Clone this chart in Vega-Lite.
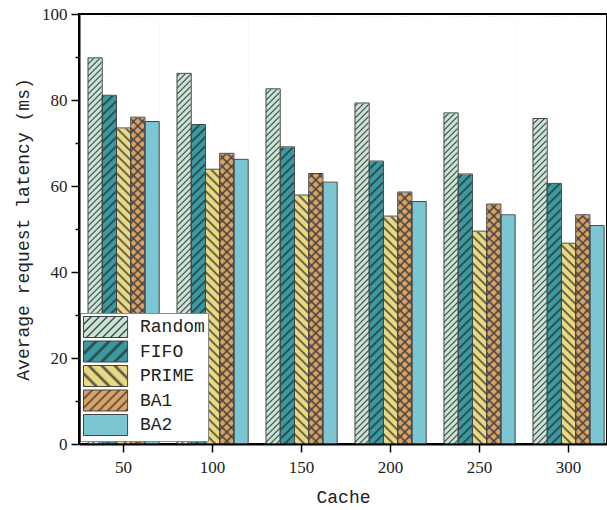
{
"$schema":"https://vega.github.io/schema/vega-lite/v6.json",
"width":528,"height":430,
"autosize":{"type":"none"},
"padding":{"left":79,"top":14,"right":0,"bottom":66},
"background":"white",
"config":{"view":{"stroke":"black","strokeWidth":2},"axis":{"labelFont":"Liberation Serif","labelFontSize":17,"labelColor":"#222","titleFont":"Liberation Mono","titleFontSize":18,"titleFontWeight":"normal","titleColor":"#222","grid":false}},
"data":{"values":[
{"cache":50,"series":"Random","latency":89.8},{"cache":50,"series":"FIFO","latency":81.1},{"cache":50,"series":"PRIME","latency":73.5},{"cache":50,"series":"BA1","latency":76.0},{"cache":50,"series":"BA2","latency":75.0},
{"cache":100,"series":"Random","latency":86.2},{"cache":100,"series":"FIFO","latency":74.3},{"cache":100,"series":"PRIME","latency":63.9},{"cache":100,"series":"BA1","latency":67.6},{"cache":100,"series":"BA2","latency":66.2},
{"cache":150,"series":"Random","latency":82.6},{"cache":150,"series":"FIFO","latency":69.1},{"cache":150,"series":"PRIME","latency":57.9},{"cache":150,"series":"BA1","latency":62.9},{"cache":150,"series":"BA2","latency":60.9},
{"cache":200,"series":"Random","latency":79.3},{"cache":200,"series":"FIFO","latency":65.8},{"cache":200,"series":"PRIME","latency":53.0},{"cache":200,"series":"BA1","latency":58.6},{"cache":200,"series":"BA2","latency":56.4},
{"cache":250,"series":"Random","latency":77.0},{"cache":250,"series":"FIFO","latency":62.8},{"cache":250,"series":"PRIME","latency":49.5},{"cache":250,"series":"BA1","latency":55.8},{"cache":250,"series":"BA2","latency":53.3},
{"cache":300,"series":"Random","latency":75.7},{"cache":300,"series":"FIFO","latency":60.6},{"cache":300,"series":"PRIME","latency":46.7},{"cache":300,"series":"BA1","latency":53.3},{"cache":300,"series":"BA2","latency":50.8}
]},
"encoding":{
"x":{"field":"cache","type":"nominal","sort":[50,100,150,200,250,300],"scale":{"paddingInner":0.2,"paddingOuter":0.0666,"align":0.76,"round":false},"axis":{"title":"Cache","labelAngle":0,"ticks":true,"domain":true,"domainColor":"black","domainWidth":2,"tickColor":"black","tickWidth":1.5,"tickSize":8,"labelPadding":7,"titlePadding":13,"zindex":1}},
"xOffset":{"field":"series","type":"nominal","sort":["Random","FIFO","PRIME","BA1","BA2"],"scale":{"domain":["Random","FIFO","PRIME","BA1","BA2"],"paddingInner":0,"paddingOuter":0,"round":false}}
},
"layer":[
{"transform":[{"filter":"datum.series==='Random'"}],
"mark":{"type":"bar","strokeWidth":0,"fill":{"gradient":"linear","x1":0,"y1":0,"x2":0.046617,"y2":1.40082,"stops":[
{"offset":0,"color":"#444"},{"offset":0.0025,"color":"#c8e6d6"},{"offset":0.0075,"color":"#c8e6d6"},
{"offset":0.01,"color":"#444"},{"offset":0.0125,"color":"#c8e6d6"},{"offset":0.0175,"color":"#c8e6d6"},
{"offset":0.02,"color":"#444"},{"offset":0.0225,"color":"#c8e6d6"},{"offset":0.0275,"color":"#c8e6d6"},
{"offset":0.03,"color":"#444"},{"offset":0.0325,"color":"#c8e6d6"},{"offset":0.0375,"color":"#c8e6d6"},
{"offset":0.04,"color":"#444"},{"offset":0.0425,"color":"#c8e6d6"},{"offset":0.0475,"color":"#c8e6d6"},
{"offset":0.05,"color":"#444"},{"offset":0.0525,"color":"#c8e6d6"},{"offset":0.0575,"color":"#c8e6d6"},
{"offset":0.06,"color":"#444"},{"offset":0.0625,"color":"#c8e6d6"},{"offset":0.0675,"color":"#c8e6d6"},
{"offset":0.07,"color":"#444"},{"offset":0.0725,"color":"#c8e6d6"},{"offset":0.0775,"color":"#c8e6d6"},
{"offset":0.08,"color":"#444"},{"offset":0.0825,"color":"#c8e6d6"},{"offset":0.0875,"color":"#c8e6d6"},
{"offset":0.09,"color":"#444"},{"offset":0.0925,"color":"#c8e6d6"},{"offset":0.0975,"color":"#c8e6d6"},
{"offset":0.10,"color":"#444"},{"offset":0.1025,"color":"#c8e6d6"},{"offset":0.1075,"color":"#c8e6d6"},
{"offset":0.11,"color":"#444"},{"offset":0.1125,"color":"#c8e6d6"},{"offset":0.1175,"color":"#c8e6d6"},
{"offset":0.12,"color":"#444"},{"offset":0.1225,"color":"#c8e6d6"},{"offset":0.1275,"color":"#c8e6d6"},
{"offset":0.13,"color":"#444"},{"offset":0.1325,"color":"#c8e6d6"},{"offset":0.1375,"color":"#c8e6d6"},
{"offset":0.14,"color":"#444"},{"offset":0.1425,"color":"#c8e6d6"},{"offset":0.1475,"color":"#c8e6d6"},
{"offset":0.15,"color":"#444"},{"offset":0.1525,"color":"#c8e6d6"},{"offset":0.1575,"color":"#c8e6d6"},
{"offset":0.16,"color":"#444"},{"offset":0.1625,"color":"#c8e6d6"},{"offset":0.1675,"color":"#c8e6d6"},
{"offset":0.17,"color":"#444"},{"offset":0.1725,"color":"#c8e6d6"},{"offset":0.1775,"color":"#c8e6d6"},
{"offset":0.18,"color":"#444"},{"offset":0.1825,"color":"#c8e6d6"},{"offset":0.1875,"color":"#c8e6d6"},
{"offset":0.19,"color":"#444"},{"offset":0.1925,"color":"#c8e6d6"},{"offset":0.1975,"color":"#c8e6d6"},
{"offset":0.20,"color":"#444"},{"offset":0.2025,"color":"#c8e6d6"},{"offset":0.2075,"color":"#c8e6d6"},
{"offset":0.21,"color":"#444"},{"offset":0.2125,"color":"#c8e6d6"},{"offset":0.2175,"color":"#c8e6d6"},
{"offset":0.22,"color":"#444"},{"offset":0.2225,"color":"#c8e6d6"},{"offset":0.2275,"color":"#c8e6d6"},
{"offset":0.23,"color":"#444"},{"offset":0.2325,"color":"#c8e6d6"},{"offset":0.2375,"color":"#c8e6d6"},
{"offset":0.24,"color":"#444"},{"offset":0.2425,"color":"#c8e6d6"},{"offset":0.2475,"color":"#c8e6d6"},
{"offset":0.25,"color":"#444"},{"offset":0.2525,"color":"#c8e6d6"},{"offset":0.2575,"color":"#c8e6d6"},
{"offset":0.26,"color":"#444"},{"offset":0.2625,"color":"#c8e6d6"},{"offset":0.2675,"color":"#c8e6d6"},
{"offset":0.27,"color":"#444"},{"offset":0.2725,"color":"#c8e6d6"},{"offset":0.2775,"color":"#c8e6d6"},
{"offset":0.28,"color":"#444"},{"offset":0.2825,"color":"#c8e6d6"},{"offset":0.2875,"color":"#c8e6d6"},
{"offset":0.29,"color":"#444"},{"offset":0.2925,"color":"#c8e6d6"},{"offset":0.2975,"color":"#c8e6d6"},
{"offset":0.30,"color":"#444"},{"offset":0.3025,"color":"#c8e6d6"},{"offset":0.3075,"color":"#c8e6d6"},
{"offset":0.31,"color":"#444"},{"offset":0.3125,"color":"#c8e6d6"},{"offset":0.3175,"color":"#c8e6d6"},
{"offset":0.32,"color":"#444"},{"offset":0.3225,"color":"#c8e6d6"},{"offset":0.3275,"color":"#c8e6d6"},
{"offset":0.33,"color":"#444"},{"offset":0.3325,"color":"#c8e6d6"},{"offset":0.3375,"color":"#c8e6d6"},
{"offset":0.34,"color":"#444"},{"offset":0.3425,"color":"#c8e6d6"},{"offset":0.3475,"color":"#c8e6d6"},
{"offset":0.35,"color":"#444"},{"offset":0.3525,"color":"#c8e6d6"},{"offset":0.3575,"color":"#c8e6d6"},
{"offset":0.36,"color":"#444"},{"offset":0.3625,"color":"#c8e6d6"},{"offset":0.3675,"color":"#c8e6d6"},
{"offset":0.37,"color":"#444"},{"offset":0.3725,"color":"#c8e6d6"},{"offset":0.3775,"color":"#c8e6d6"},
{"offset":0.38,"color":"#444"},{"offset":0.3825,"color":"#c8e6d6"},{"offset":0.3875,"color":"#c8e6d6"},
{"offset":0.39,"color":"#444"},{"offset":0.3925,"color":"#c8e6d6"},{"offset":0.3975,"color":"#c8e6d6"},
{"offset":0.40,"color":"#444"},{"offset":0.4025,"color":"#c8e6d6"},{"offset":0.4075,"color":"#c8e6d6"},
{"offset":0.41,"color":"#444"},{"offset":0.4125,"color":"#c8e6d6"},{"offset":0.4175,"color":"#c8e6d6"},
{"offset":0.42,"color":"#444"},{"offset":0.4225,"color":"#c8e6d6"},{"offset":0.4275,"color":"#c8e6d6"},
{"offset":0.43,"color":"#444"},{"offset":0.4325,"color":"#c8e6d6"},{"offset":0.4375,"color":"#c8e6d6"},
{"offset":0.44,"color":"#444"},{"offset":0.4425,"color":"#c8e6d6"},{"offset":0.4475,"color":"#c8e6d6"},
{"offset":0.45,"color":"#444"},{"offset":0.4525,"color":"#c8e6d6"},{"offset":0.4575,"color":"#c8e6d6"},
{"offset":0.46,"color":"#444"},{"offset":0.4625,"color":"#c8e6d6"},{"offset":0.4675,"color":"#c8e6d6"},
{"offset":0.47,"color":"#444"},{"offset":0.4725,"color":"#c8e6d6"},{"offset":0.4775,"color":"#c8e6d6"},
{"offset":0.48,"color":"#444"},{"offset":0.4825,"color":"#c8e6d6"},{"offset":0.4875,"color":"#c8e6d6"},
{"offset":0.49,"color":"#444"},{"offset":0.4925,"color":"#c8e6d6"},{"offset":0.4975,"color":"#c8e6d6"},
{"offset":0.50,"color":"#444"},{"offset":0.5025,"color":"#c8e6d6"},{"offset":0.5075,"color":"#c8e6d6"},
{"offset":0.51,"color":"#444"},{"offset":0.5125,"color":"#c8e6d6"},{"offset":0.5175,"color":"#c8e6d6"},
{"offset":0.52,"color":"#444"},{"offset":0.5225,"color":"#c8e6d6"},{"offset":0.5275,"color":"#c8e6d6"},
{"offset":0.53,"color":"#444"},{"offset":0.5325,"color":"#c8e6d6"},{"offset":0.5375,"color":"#c8e6d6"},
{"offset":0.54,"color":"#444"},{"offset":0.5425,"color":"#c8e6d6"},{"offset":0.5475,"color":"#c8e6d6"},
{"offset":0.55,"color":"#444"},{"offset":0.5525,"color":"#c8e6d6"},{"offset":0.5575,"color":"#c8e6d6"},
{"offset":0.56,"color":"#444"},{"offset":0.5625,"color":"#c8e6d6"},{"offset":0.5675,"color":"#c8e6d6"},
{"offset":0.57,"color":"#444"},{"offset":0.5725,"color":"#c8e6d6"},{"offset":0.5775,"color":"#c8e6d6"},
{"offset":0.58,"color":"#444"},{"offset":0.5825,"color":"#c8e6d6"},{"offset":0.5875,"color":"#c8e6d6"},
{"offset":0.59,"color":"#444"},{"offset":0.5925,"color":"#c8e6d6"},{"offset":0.5975,"color":"#c8e6d6"},
{"offset":0.60,"color":"#444"},{"offset":0.6025,"color":"#c8e6d6"},{"offset":0.6075,"color":"#c8e6d6"},
{"offset":0.61,"color":"#444"},{"offset":0.6125,"color":"#c8e6d6"},{"offset":0.6175,"color":"#c8e6d6"},
{"offset":0.62,"color":"#444"},{"offset":0.6225,"color":"#c8e6d6"},{"offset":0.6275,"color":"#c8e6d6"},
{"offset":0.63,"color":"#444"},{"offset":0.6325,"color":"#c8e6d6"},{"offset":0.6375,"color":"#c8e6d6"},
{"offset":0.64,"color":"#444"},{"offset":0.6425,"color":"#c8e6d6"},{"offset":0.6475,"color":"#c8e6d6"},
{"offset":0.65,"color":"#444"},{"offset":0.6525,"color":"#c8e6d6"},{"offset":0.6575,"color":"#c8e6d6"},
{"offset":0.66,"color":"#444"},{"offset":0.6625,"color":"#c8e6d6"},{"offset":0.6675,"color":"#c8e6d6"},
{"offset":0.67,"color":"#444"},{"offset":0.6725,"color":"#c8e6d6"},{"offset":0.6775,"color":"#c8e6d6"},
{"offset":0.68,"color":"#444"},{"offset":0.6825,"color":"#c8e6d6"},{"offset":0.6875,"color":"#c8e6d6"},
{"offset":0.69,"color":"#444"},{"offset":0.6925,"color":"#c8e6d6"},{"offset":0.6975,"color":"#c8e6d6"},
{"offset":0.70,"color":"#444"},{"offset":0.7025,"color":"#c8e6d6"},{"offset":0.7075,"color":"#c8e6d6"},
{"offset":0.71,"color":"#444"},{"offset":0.7125,"color":"#c8e6d6"},{"offset":0.7175,"color":"#c8e6d6"},
{"offset":0.72,"color":"#444"},{"offset":0.7225,"color":"#c8e6d6"},{"offset":0.7275,"color":"#c8e6d6"},
{"offset":0.73,"color":"#444"},{"offset":0.7325,"color":"#c8e6d6"},{"offset":0.7375,"color":"#c8e6d6"},
{"offset":0.74,"color":"#444"},{"offset":0.7425,"color":"#c8e6d6"}]}},
"encoding":{"y":{"datum":99.5,"type":"quantitative","scale":{"domain":[0,100],"nice":false},"axis":{"title":"Average request latency (ms)","values":[0,10,20,30,40,50,60,70,80,90,100],"labelExpr":"datum.value % 20 === 0 ? datum.label : ''","ticks":true,"domain":true,"domainColor":"black","domainWidth":2,"tickColor":"black","tickWidth":1.5,"tickSize":{"condition":{"test":"datum.value % 20 === 0","value":8},"value":4},"labelPadding":4,"titlePadding":9,"zindex":1}},"y2":{"datum":0}}},
{"transform":[{"filter":"datum.series==='FIFO'"}],
"mark":{"type":"bar","strokeWidth":0,"fill":{"gradient":"linear","x1":0,"y1":0,"x2":0.069924,"y2":2.10123,"stops":[
{"offset":0,"color":"#2b3a3c"},{"offset":0.0025,"color":"#3a9aa2"},{"offset":0.0075,"color":"#3a9aa2"},
{"offset":0.01,"color":"#2b3a3c"},{"offset":0.0125,"color":"#3a9aa2"},{"offset":0.0175,"color":"#3a9aa2"},
{"offset":0.02,"color":"#2b3a3c"},{"offset":0.0225,"color":"#3a9aa2"},{"offset":0.0275,"color":"#3a9aa2"},
{"offset":0.03,"color":"#2b3a3c"},{"offset":0.0325,"color":"#3a9aa2"},{"offset":0.0375,"color":"#3a9aa2"},
{"offset":0.04,"color":"#2b3a3c"},{"offset":0.0425,"color":"#3a9aa2"},{"offset":0.0475,"color":"#3a9aa2"},
{"offset":0.05,"color":"#2b3a3c"},{"offset":0.0525,"color":"#3a9aa2"},{"offset":0.0575,"color":"#3a9aa2"},
{"offset":0.06,"color":"#2b3a3c"},{"offset":0.0625,"color":"#3a9aa2"},{"offset":0.0675,"color":"#3a9aa2"},
{"offset":0.07,"color":"#2b3a3c"},{"offset":0.0725,"color":"#3a9aa2"},{"offset":0.0775,"color":"#3a9aa2"},
{"offset":0.08,"color":"#2b3a3c"},{"offset":0.0825,"color":"#3a9aa2"},{"offset":0.0875,"color":"#3a9aa2"},
{"offset":0.09,"color":"#2b3a3c"},{"offset":0.0925,"color":"#3a9aa2"},{"offset":0.0975,"color":"#3a9aa2"},
{"offset":0.10,"color":"#2b3a3c"},{"offset":0.1025,"color":"#3a9aa2"},{"offset":0.1075,"color":"#3a9aa2"},
{"offset":0.11,"color":"#2b3a3c"},{"offset":0.1125,"color":"#3a9aa2"},{"offset":0.1175,"color":"#3a9aa2"},
{"offset":0.12,"color":"#2b3a3c"},{"offset":0.1225,"color":"#3a9aa2"},{"offset":0.1275,"color":"#3a9aa2"},
{"offset":0.13,"color":"#2b3a3c"},{"offset":0.1325,"color":"#3a9aa2"},{"offset":0.1375,"color":"#3a9aa2"},
{"offset":0.14,"color":"#2b3a3c"},{"offset":0.1425,"color":"#3a9aa2"},{"offset":0.1475,"color":"#3a9aa2"},
{"offset":0.15,"color":"#2b3a3c"},{"offset":0.1525,"color":"#3a9aa2"},{"offset":0.1575,"color":"#3a9aa2"},
{"offset":0.16,"color":"#2b3a3c"},{"offset":0.1625,"color":"#3a9aa2"},{"offset":0.1675,"color":"#3a9aa2"},
{"offset":0.17,"color":"#2b3a3c"},{"offset":0.1725,"color":"#3a9aa2"},{"offset":0.1775,"color":"#3a9aa2"},
{"offset":0.18,"color":"#2b3a3c"},{"offset":0.1825,"color":"#3a9aa2"},{"offset":0.1875,"color":"#3a9aa2"},
{"offset":0.19,"color":"#2b3a3c"},{"offset":0.1925,"color":"#3a9aa2"},{"offset":0.1975,"color":"#3a9aa2"},
{"offset":0.20,"color":"#2b3a3c"},{"offset":0.2025,"color":"#3a9aa2"},{"offset":0.2075,"color":"#3a9aa2"},
{"offset":0.21,"color":"#2b3a3c"},{"offset":0.2125,"color":"#3a9aa2"},{"offset":0.2175,"color":"#3a9aa2"},
{"offset":0.22,"color":"#2b3a3c"},{"offset":0.2225,"color":"#3a9aa2"},{"offset":0.2275,"color":"#3a9aa2"},
{"offset":0.23,"color":"#2b3a3c"},{"offset":0.2325,"color":"#3a9aa2"},{"offset":0.2375,"color":"#3a9aa2"},
{"offset":0.24,"color":"#2b3a3c"},{"offset":0.2425,"color":"#3a9aa2"},{"offset":0.2475,"color":"#3a9aa2"},
{"offset":0.25,"color":"#2b3a3c"},{"offset":0.2525,"color":"#3a9aa2"},{"offset":0.2575,"color":"#3a9aa2"},
{"offset":0.26,"color":"#2b3a3c"},{"offset":0.2625,"color":"#3a9aa2"},{"offset":0.2675,"color":"#3a9aa2"},
{"offset":0.27,"color":"#2b3a3c"},{"offset":0.2725,"color":"#3a9aa2"},{"offset":0.2775,"color":"#3a9aa2"},
{"offset":0.28,"color":"#2b3a3c"},{"offset":0.2825,"color":"#3a9aa2"},{"offset":0.2875,"color":"#3a9aa2"},
{"offset":0.29,"color":"#2b3a3c"},{"offset":0.2925,"color":"#3a9aa2"},{"offset":0.2975,"color":"#3a9aa2"},
{"offset":0.30,"color":"#2b3a3c"},{"offset":0.3025,"color":"#3a9aa2"},{"offset":0.3075,"color":"#3a9aa2"},
{"offset":0.31,"color":"#2b3a3c"},{"offset":0.3125,"color":"#3a9aa2"},{"offset":0.3175,"color":"#3a9aa2"},
{"offset":0.32,"color":"#2b3a3c"},{"offset":0.3225,"color":"#3a9aa2"},{"offset":0.3275,"color":"#3a9aa2"},
{"offset":0.33,"color":"#2b3a3c"},{"offset":0.3325,"color":"#3a9aa2"},{"offset":0.3375,"color":"#3a9aa2"},
{"offset":0.34,"color":"#2b3a3c"},{"offset":0.3425,"color":"#3a9aa2"},{"offset":0.3475,"color":"#3a9aa2"},
{"offset":0.35,"color":"#2b3a3c"},{"offset":0.3525,"color":"#3a9aa2"},{"offset":0.3575,"color":"#3a9aa2"},
{"offset":0.36,"color":"#2b3a3c"},{"offset":0.3625,"color":"#3a9aa2"},{"offset":0.3675,"color":"#3a9aa2"},
{"offset":0.37,"color":"#2b3a3c"},{"offset":0.3725,"color":"#3a9aa2"},{"offset":0.3775,"color":"#3a9aa2"},
{"offset":0.38,"color":"#2b3a3c"},{"offset":0.3825,"color":"#3a9aa2"},{"offset":0.3875,"color":"#3a9aa2"},
{"offset":0.39,"color":"#2b3a3c"},{"offset":0.3925,"color":"#3a9aa2"},{"offset":0.3975,"color":"#3a9aa2"},
{"offset":0.40,"color":"#2b3a3c"},{"offset":0.4025,"color":"#3a9aa2"},{"offset":0.4075,"color":"#3a9aa2"},
{"offset":0.41,"color":"#2b3a3c"},{"offset":0.4125,"color":"#3a9aa2"},{"offset":0.4175,"color":"#3a9aa2"},
{"offset":0.42,"color":"#2b3a3c"},{"offset":0.4225,"color":"#3a9aa2"},{"offset":0.4275,"color":"#3a9aa2"},
{"offset":0.43,"color":"#2b3a3c"},{"offset":0.4325,"color":"#3a9aa2"},{"offset":0.4375,"color":"#3a9aa2"},
{"offset":0.44,"color":"#2b3a3c"},{"offset":0.4425,"color":"#3a9aa2"},{"offset":0.4475,"color":"#3a9aa2"},
{"offset":0.45,"color":"#2b3a3c"},{"offset":0.4525,"color":"#3a9aa2"},{"offset":0.4575,"color":"#3a9aa2"},
{"offset":0.46,"color":"#2b3a3c"},{"offset":0.4625,"color":"#3a9aa2"},{"offset":0.4675,"color":"#3a9aa2"},
{"offset":0.47,"color":"#2b3a3c"},{"offset":0.4725,"color":"#3a9aa2"},{"offset":0.4775,"color":"#3a9aa2"},
{"offset":0.48,"color":"#2b3a3c"},{"offset":0.4825,"color":"#3a9aa2"},{"offset":0.4875,"color":"#3a9aa2"},
{"offset":0.49,"color":"#2b3a3c"},{"offset":0.4925,"color":"#3a9aa2"}]}},
"encoding":{"y":{"datum":99.5,"type":"quantitative"},"y2":{"datum":0}}},
{"transform":[{"filter":"datum.series==='PRIME'"}],
"mark":{"type":"bar","strokeWidth":0,"fill":{"gradient":"linear","x1":1,"y1":0,"x2":0.930076,"y2":2.10123,"stops":[
{"offset":0,"color":"#444"},{"offset":0.0025,"color":"#ebd97f"},{"offset":0.0075,"color":"#ebd97f"},
{"offset":0.01,"color":"#444"},{"offset":0.0125,"color":"#ebd97f"},{"offset":0.0175,"color":"#ebd97f"},
{"offset":0.02,"color":"#444"},{"offset":0.0225,"color":"#ebd97f"},{"offset":0.0275,"color":"#ebd97f"},
{"offset":0.03,"color":"#444"},{"offset":0.0325,"color":"#ebd97f"},{"offset":0.0375,"color":"#ebd97f"},
{"offset":0.04,"color":"#444"},{"offset":0.0425,"color":"#ebd97f"},{"offset":0.0475,"color":"#ebd97f"},
{"offset":0.05,"color":"#444"},{"offset":0.0525,"color":"#ebd97f"},{"offset":0.0575,"color":"#ebd97f"},
{"offset":0.06,"color":"#444"},{"offset":0.0625,"color":"#ebd97f"},{"offset":0.0675,"color":"#ebd97f"},
{"offset":0.07,"color":"#444"},{"offset":0.0725,"color":"#ebd97f"},{"offset":0.0775,"color":"#ebd97f"},
{"offset":0.08,"color":"#444"},{"offset":0.0825,"color":"#ebd97f"},{"offset":0.0875,"color":"#ebd97f"},
{"offset":0.09,"color":"#444"},{"offset":0.0925,"color":"#ebd97f"},{"offset":0.0975,"color":"#ebd97f"},
{"offset":0.10,"color":"#444"},{"offset":0.1025,"color":"#ebd97f"},{"offset":0.1075,"color":"#ebd97f"},
{"offset":0.11,"color":"#444"},{"offset":0.1125,"color":"#ebd97f"},{"offset":0.1175,"color":"#ebd97f"},
{"offset":0.12,"color":"#444"},{"offset":0.1225,"color":"#ebd97f"},{"offset":0.1275,"color":"#ebd97f"},
{"offset":0.13,"color":"#444"},{"offset":0.1325,"color":"#ebd97f"},{"offset":0.1375,"color":"#ebd97f"},
{"offset":0.14,"color":"#444"},{"offset":0.1425,"color":"#ebd97f"},{"offset":0.1475,"color":"#ebd97f"},
{"offset":0.15,"color":"#444"},{"offset":0.1525,"color":"#ebd97f"},{"offset":0.1575,"color":"#ebd97f"},
{"offset":0.16,"color":"#444"},{"offset":0.1625,"color":"#ebd97f"},{"offset":0.1675,"color":"#ebd97f"},
{"offset":0.17,"color":"#444"},{"offset":0.1725,"color":"#ebd97f"},{"offset":0.1775,"color":"#ebd97f"},
{"offset":0.18,"color":"#444"},{"offset":0.1825,"color":"#ebd97f"},{"offset":0.1875,"color":"#ebd97f"},
{"offset":0.19,"color":"#444"},{"offset":0.1925,"color":"#ebd97f"},{"offset":0.1975,"color":"#ebd97f"},
{"offset":0.20,"color":"#444"},{"offset":0.2025,"color":"#ebd97f"},{"offset":0.2075,"color":"#ebd97f"},
{"offset":0.21,"color":"#444"},{"offset":0.2125,"color":"#ebd97f"},{"offset":0.2175,"color":"#ebd97f"},
{"offset":0.22,"color":"#444"},{"offset":0.2225,"color":"#ebd97f"},{"offset":0.2275,"color":"#ebd97f"},
{"offset":0.23,"color":"#444"},{"offset":0.2325,"color":"#ebd97f"},{"offset":0.2375,"color":"#ebd97f"},
{"offset":0.24,"color":"#444"},{"offset":0.2425,"color":"#ebd97f"},{"offset":0.2475,"color":"#ebd97f"},
{"offset":0.25,"color":"#444"},{"offset":0.2525,"color":"#ebd97f"},{"offset":0.2575,"color":"#ebd97f"},
{"offset":0.26,"color":"#444"},{"offset":0.2625,"color":"#ebd97f"},{"offset":0.2675,"color":"#ebd97f"},
{"offset":0.27,"color":"#444"},{"offset":0.2725,"color":"#ebd97f"},{"offset":0.2775,"color":"#ebd97f"},
{"offset":0.28,"color":"#444"},{"offset":0.2825,"color":"#ebd97f"},{"offset":0.2875,"color":"#ebd97f"},
{"offset":0.29,"color":"#444"},{"offset":0.2925,"color":"#ebd97f"},{"offset":0.2975,"color":"#ebd97f"},
{"offset":0.30,"color":"#444"},{"offset":0.3025,"color":"#ebd97f"},{"offset":0.3075,"color":"#ebd97f"},
{"offset":0.31,"color":"#444"},{"offset":0.3125,"color":"#ebd97f"},{"offset":0.3175,"color":"#ebd97f"},
{"offset":0.32,"color":"#444"},{"offset":0.3225,"color":"#ebd97f"},{"offset":0.3275,"color":"#ebd97f"},
{"offset":0.33,"color":"#444"},{"offset":0.3325,"color":"#ebd97f"},{"offset":0.3375,"color":"#ebd97f"},
{"offset":0.34,"color":"#444"},{"offset":0.3425,"color":"#ebd97f"},{"offset":0.3475,"color":"#ebd97f"},
{"offset":0.35,"color":"#444"},{"offset":0.3525,"color":"#ebd97f"},{"offset":0.3575,"color":"#ebd97f"},
{"offset":0.36,"color":"#444"},{"offset":0.3625,"color":"#ebd97f"},{"offset":0.3675,"color":"#ebd97f"},
{"offset":0.37,"color":"#444"},{"offset":0.3725,"color":"#ebd97f"},{"offset":0.3775,"color":"#ebd97f"},
{"offset":0.38,"color":"#444"},{"offset":0.3825,"color":"#ebd97f"},{"offset":0.3875,"color":"#ebd97f"},
{"offset":0.39,"color":"#444"},{"offset":0.3925,"color":"#ebd97f"},{"offset":0.3975,"color":"#ebd97f"},
{"offset":0.40,"color":"#444"},{"offset":0.4025,"color":"#ebd97f"},{"offset":0.4075,"color":"#ebd97f"},
{"offset":0.41,"color":"#444"},{"offset":0.4125,"color":"#ebd97f"},{"offset":0.4175,"color":"#ebd97f"},
{"offset":0.42,"color":"#444"},{"offset":0.4225,"color":"#ebd97f"},{"offset":0.4275,"color":"#ebd97f"},
{"offset":0.43,"color":"#444"},{"offset":0.4325,"color":"#ebd97f"},{"offset":0.4375,"color":"#ebd97f"},
{"offset":0.44,"color":"#444"},{"offset":0.4425,"color":"#ebd97f"},{"offset":0.4475,"color":"#ebd97f"},
{"offset":0.45,"color":"#444"},{"offset":0.4525,"color":"#ebd97f"},{"offset":0.4575,"color":"#ebd97f"},
{"offset":0.46,"color":"#444"},{"offset":0.4625,"color":"#ebd97f"},{"offset":0.4675,"color":"#ebd97f"},
{"offset":0.47,"color":"#444"},{"offset":0.4725,"color":"#ebd97f"},{"offset":0.4775,"color":"#ebd97f"},
{"offset":0.48,"color":"#444"},{"offset":0.4825,"color":"#ebd97f"},{"offset":0.4875,"color":"#ebd97f"},
{"offset":0.49,"color":"#444"},{"offset":0.4925,"color":"#ebd97f"}]}},
"encoding":{"y":{"datum":99.5,"type":"quantitative"},"y2":{"datum":0}}},
{"transform":[{"filter":"datum.series==='BA1'"}],
"mark":{"type":"bar","strokeWidth":0,"fill":{"gradient":"linear","x1":0,"y1":0,"x2":0.069924,"y2":2.10123,"stops":[
{"offset":0,"color":"#444"},{"offset":0.0025,"color":"#dba262"},{"offset":0.0075,"color":"#dba262"},
{"offset":0.01,"color":"#444"},{"offset":0.0125,"color":"#dba262"},{"offset":0.0175,"color":"#dba262"},
{"offset":0.02,"color":"#444"},{"offset":0.0225,"color":"#dba262"},{"offset":0.0275,"color":"#dba262"},
{"offset":0.03,"color":"#444"},{"offset":0.0325,"color":"#dba262"},{"offset":0.0375,"color":"#dba262"},
{"offset":0.04,"color":"#444"},{"offset":0.0425,"color":"#dba262"},{"offset":0.0475,"color":"#dba262"},
{"offset":0.05,"color":"#444"},{"offset":0.0525,"color":"#dba262"},{"offset":0.0575,"color":"#dba262"},
{"offset":0.06,"color":"#444"},{"offset":0.0625,"color":"#dba262"},{"offset":0.0675,"color":"#dba262"},
{"offset":0.07,"color":"#444"},{"offset":0.0725,"color":"#dba262"},{"offset":0.0775,"color":"#dba262"},
{"offset":0.08,"color":"#444"},{"offset":0.0825,"color":"#dba262"},{"offset":0.0875,"color":"#dba262"},
{"offset":0.09,"color":"#444"},{"offset":0.0925,"color":"#dba262"},{"offset":0.0975,"color":"#dba262"},
{"offset":0.10,"color":"#444"},{"offset":0.1025,"color":"#dba262"},{"offset":0.1075,"color":"#dba262"},
{"offset":0.11,"color":"#444"},{"offset":0.1125,"color":"#dba262"},{"offset":0.1175,"color":"#dba262"},
{"offset":0.12,"color":"#444"},{"offset":0.1225,"color":"#dba262"},{"offset":0.1275,"color":"#dba262"},
{"offset":0.13,"color":"#444"},{"offset":0.1325,"color":"#dba262"},{"offset":0.1375,"color":"#dba262"},
{"offset":0.14,"color":"#444"},{"offset":0.1425,"color":"#dba262"},{"offset":0.1475,"color":"#dba262"},
{"offset":0.15,"color":"#444"},{"offset":0.1525,"color":"#dba262"},{"offset":0.1575,"color":"#dba262"},
{"offset":0.16,"color":"#444"},{"offset":0.1625,"color":"#dba262"},{"offset":0.1675,"color":"#dba262"},
{"offset":0.17,"color":"#444"},{"offset":0.1725,"color":"#dba262"},{"offset":0.1775,"color":"#dba262"},
{"offset":0.18,"color":"#444"},{"offset":0.1825,"color":"#dba262"},{"offset":0.1875,"color":"#dba262"},
{"offset":0.19,"color":"#444"},{"offset":0.1925,"color":"#dba262"},{"offset":0.1975,"color":"#dba262"},
{"offset":0.20,"color":"#444"},{"offset":0.2025,"color":"#dba262"},{"offset":0.2075,"color":"#dba262"},
{"offset":0.21,"color":"#444"},{"offset":0.2125,"color":"#dba262"},{"offset":0.2175,"color":"#dba262"},
{"offset":0.22,"color":"#444"},{"offset":0.2225,"color":"#dba262"},{"offset":0.2275,"color":"#dba262"},
{"offset":0.23,"color":"#444"},{"offset":0.2325,"color":"#dba262"},{"offset":0.2375,"color":"#dba262"},
{"offset":0.24,"color":"#444"},{"offset":0.2425,"color":"#dba262"},{"offset":0.2475,"color":"#dba262"},
{"offset":0.25,"color":"#444"},{"offset":0.2525,"color":"#dba262"},{"offset":0.2575,"color":"#dba262"},
{"offset":0.26,"color":"#444"},{"offset":0.2625,"color":"#dba262"},{"offset":0.2675,"color":"#dba262"},
{"offset":0.27,"color":"#444"},{"offset":0.2725,"color":"#dba262"},{"offset":0.2775,"color":"#dba262"},
{"offset":0.28,"color":"#444"},{"offset":0.2825,"color":"#dba262"},{"offset":0.2875,"color":"#dba262"},
{"offset":0.29,"color":"#444"},{"offset":0.2925,"color":"#dba262"},{"offset":0.2975,"color":"#dba262"},
{"offset":0.30,"color":"#444"},{"offset":0.3025,"color":"#dba262"},{"offset":0.3075,"color":"#dba262"},
{"offset":0.31,"color":"#444"},{"offset":0.3125,"color":"#dba262"},{"offset":0.3175,"color":"#dba262"},
{"offset":0.32,"color":"#444"},{"offset":0.3225,"color":"#dba262"},{"offset":0.3275,"color":"#dba262"},
{"offset":0.33,"color":"#444"},{"offset":0.3325,"color":"#dba262"},{"offset":0.3375,"color":"#dba262"},
{"offset":0.34,"color":"#444"},{"offset":0.3425,"color":"#dba262"},{"offset":0.3475,"color":"#dba262"},
{"offset":0.35,"color":"#444"},{"offset":0.3525,"color":"#dba262"},{"offset":0.3575,"color":"#dba262"},
{"offset":0.36,"color":"#444"},{"offset":0.3625,"color":"#dba262"},{"offset":0.3675,"color":"#dba262"},
{"offset":0.37,"color":"#444"},{"offset":0.3725,"color":"#dba262"},{"offset":0.3775,"color":"#dba262"},
{"offset":0.38,"color":"#444"},{"offset":0.3825,"color":"#dba262"},{"offset":0.3875,"color":"#dba262"},
{"offset":0.39,"color":"#444"},{"offset":0.3925,"color":"#dba262"},{"offset":0.3975,"color":"#dba262"},
{"offset":0.40,"color":"#444"},{"offset":0.4025,"color":"#dba262"},{"offset":0.4075,"color":"#dba262"},
{"offset":0.41,"color":"#444"},{"offset":0.4125,"color":"#dba262"},{"offset":0.4175,"color":"#dba262"},
{"offset":0.42,"color":"#444"},{"offset":0.4225,"color":"#dba262"},{"offset":0.4275,"color":"#dba262"},
{"offset":0.43,"color":"#444"},{"offset":0.4325,"color":"#dba262"},{"offset":0.4375,"color":"#dba262"},
{"offset":0.44,"color":"#444"},{"offset":0.4425,"color":"#dba262"},{"offset":0.4475,"color":"#dba262"},
{"offset":0.45,"color":"#444"},{"offset":0.4525,"color":"#dba262"},{"offset":0.4575,"color":"#dba262"},
{"offset":0.46,"color":"#444"},{"offset":0.4625,"color":"#dba262"},{"offset":0.4675,"color":"#dba262"},
{"offset":0.47,"color":"#444"},{"offset":0.4725,"color":"#dba262"},{"offset":0.4775,"color":"#dba262"},
{"offset":0.48,"color":"#444"},{"offset":0.4825,"color":"#dba262"},{"offset":0.4875,"color":"#dba262"},
{"offset":0.49,"color":"#444"},{"offset":0.4925,"color":"#dba262"}]}},
"encoding":{"y":{"datum":99.5,"type":"quantitative"},"y2":{"datum":0}}},
{"transform":[{"filter":"datum.series==='BA1'"}],
"mark":{"type":"bar","strokeWidth":0,"fill":{"gradient":"linear","x1":1,"y1":0,"x2":0.930076,"y2":2.10123,"stops":[
{"offset":0,"color":"#444"},{"offset":0.0025,"color":"rgba(68,68,68,0)"},{"offset":0.0075,"color":"rgba(68,68,68,0)"},
{"offset":0.01,"color":"#444"},{"offset":0.0125,"color":"rgba(68,68,68,0)"},{"offset":0.0175,"color":"rgba(68,68,68,0)"},
{"offset":0.02,"color":"#444"},{"offset":0.0225,"color":"rgba(68,68,68,0)"},{"offset":0.0275,"color":"rgba(68,68,68,0)"},
{"offset":0.03,"color":"#444"},{"offset":0.0325,"color":"rgba(68,68,68,0)"},{"offset":0.0375,"color":"rgba(68,68,68,0)"},
{"offset":0.04,"color":"#444"},{"offset":0.0425,"color":"rgba(68,68,68,0)"},{"offset":0.0475,"color":"rgba(68,68,68,0)"},
{"offset":0.05,"color":"#444"},{"offset":0.0525,"color":"rgba(68,68,68,0)"},{"offset":0.0575,"color":"rgba(68,68,68,0)"},
{"offset":0.06,"color":"#444"},{"offset":0.0625,"color":"rgba(68,68,68,0)"},{"offset":0.0675,"color":"rgba(68,68,68,0)"},
{"offset":0.07,"color":"#444"},{"offset":0.0725,"color":"rgba(68,68,68,0)"},{"offset":0.0775,"color":"rgba(68,68,68,0)"},
{"offset":0.08,"color":"#444"},{"offset":0.0825,"color":"rgba(68,68,68,0)"},{"offset":0.0875,"color":"rgba(68,68,68,0)"},
{"offset":0.09,"color":"#444"},{"offset":0.0925,"color":"rgba(68,68,68,0)"},{"offset":0.0975,"color":"rgba(68,68,68,0)"},
{"offset":0.10,"color":"#444"},{"offset":0.1025,"color":"rgba(68,68,68,0)"},{"offset":0.1075,"color":"rgba(68,68,68,0)"},
{"offset":0.11,"color":"#444"},{"offset":0.1125,"color":"rgba(68,68,68,0)"},{"offset":0.1175,"color":"rgba(68,68,68,0)"},
{"offset":0.12,"color":"#444"},{"offset":0.1225,"color":"rgba(68,68,68,0)"},{"offset":0.1275,"color":"rgba(68,68,68,0)"},
{"offset":0.13,"color":"#444"},{"offset":0.1325,"color":"rgba(68,68,68,0)"},{"offset":0.1375,"color":"rgba(68,68,68,0)"},
{"offset":0.14,"color":"#444"},{"offset":0.1425,"color":"rgba(68,68,68,0)"},{"offset":0.1475,"color":"rgba(68,68,68,0)"},
{"offset":0.15,"color":"#444"},{"offset":0.1525,"color":"rgba(68,68,68,0)"},{"offset":0.1575,"color":"rgba(68,68,68,0)"},
{"offset":0.16,"color":"#444"},{"offset":0.1625,"color":"rgba(68,68,68,0)"},{"offset":0.1675,"color":"rgba(68,68,68,0)"},
{"offset":0.17,"color":"#444"},{"offset":0.1725,"color":"rgba(68,68,68,0)"},{"offset":0.1775,"color":"rgba(68,68,68,0)"},
{"offset":0.18,"color":"#444"},{"offset":0.1825,"color":"rgba(68,68,68,0)"},{"offset":0.1875,"color":"rgba(68,68,68,0)"},
{"offset":0.19,"color":"#444"},{"offset":0.1925,"color":"rgba(68,68,68,0)"},{"offset":0.1975,"color":"rgba(68,68,68,0)"},
{"offset":0.20,"color":"#444"},{"offset":0.2025,"color":"rgba(68,68,68,0)"},{"offset":0.2075,"color":"rgba(68,68,68,0)"},
{"offset":0.21,"color":"#444"},{"offset":0.2125,"color":"rgba(68,68,68,0)"},{"offset":0.2175,"color":"rgba(68,68,68,0)"},
{"offset":0.22,"color":"#444"},{"offset":0.2225,"color":"rgba(68,68,68,0)"},{"offset":0.2275,"color":"rgba(68,68,68,0)"},
{"offset":0.23,"color":"#444"},{"offset":0.2325,"color":"rgba(68,68,68,0)"},{"offset":0.2375,"color":"rgba(68,68,68,0)"},
{"offset":0.24,"color":"#444"},{"offset":0.2425,"color":"rgba(68,68,68,0)"},{"offset":0.2475,"color":"rgba(68,68,68,0)"},
{"offset":0.25,"color":"#444"},{"offset":0.2525,"color":"rgba(68,68,68,0)"},{"offset":0.2575,"color":"rgba(68,68,68,0)"},
{"offset":0.26,"color":"#444"},{"offset":0.2625,"color":"rgba(68,68,68,0)"},{"offset":0.2675,"color":"rgba(68,68,68,0)"},
{"offset":0.27,"color":"#444"},{"offset":0.2725,"color":"rgba(68,68,68,0)"},{"offset":0.2775,"color":"rgba(68,68,68,0)"},
{"offset":0.28,"color":"#444"},{"offset":0.2825,"color":"rgba(68,68,68,0)"},{"offset":0.2875,"color":"rgba(68,68,68,0)"},
{"offset":0.29,"color":"#444"},{"offset":0.2925,"color":"rgba(68,68,68,0)"},{"offset":0.2975,"color":"rgba(68,68,68,0)"},
{"offset":0.30,"color":"#444"},{"offset":0.3025,"color":"rgba(68,68,68,0)"},{"offset":0.3075,"color":"rgba(68,68,68,0)"},
{"offset":0.31,"color":"#444"},{"offset":0.3125,"color":"rgba(68,68,68,0)"},{"offset":0.3175,"color":"rgba(68,68,68,0)"},
{"offset":0.32,"color":"#444"},{"offset":0.3225,"color":"rgba(68,68,68,0)"},{"offset":0.3275,"color":"rgba(68,68,68,0)"},
{"offset":0.33,"color":"#444"},{"offset":0.3325,"color":"rgba(68,68,68,0)"},{"offset":0.3375,"color":"rgba(68,68,68,0)"},
{"offset":0.34,"color":"#444"},{"offset":0.3425,"color":"rgba(68,68,68,0)"},{"offset":0.3475,"color":"rgba(68,68,68,0)"},
{"offset":0.35,"color":"#444"},{"offset":0.3525,"color":"rgba(68,68,68,0)"},{"offset":0.3575,"color":"rgba(68,68,68,0)"},
{"offset":0.36,"color":"#444"},{"offset":0.3625,"color":"rgba(68,68,68,0)"},{"offset":0.3675,"color":"rgba(68,68,68,0)"},
{"offset":0.37,"color":"#444"},{"offset":0.3725,"color":"rgba(68,68,68,0)"},{"offset":0.3775,"color":"rgba(68,68,68,0)"},
{"offset":0.38,"color":"#444"},{"offset":0.3825,"color":"rgba(68,68,68,0)"},{"offset":0.3875,"color":"rgba(68,68,68,0)"},
{"offset":0.39,"color":"#444"},{"offset":0.3925,"color":"rgba(68,68,68,0)"},{"offset":0.3975,"color":"rgba(68,68,68,0)"},
{"offset":0.40,"color":"#444"},{"offset":0.4025,"color":"rgba(68,68,68,0)"},{"offset":0.4075,"color":"rgba(68,68,68,0)"},
{"offset":0.41,"color":"#444"},{"offset":0.4125,"color":"rgba(68,68,68,0)"},{"offset":0.4175,"color":"rgba(68,68,68,0)"},
{"offset":0.42,"color":"#444"},{"offset":0.4225,"color":"rgba(68,68,68,0)"},{"offset":0.4275,"color":"rgba(68,68,68,0)"},
{"offset":0.43,"color":"#444"},{"offset":0.4325,"color":"rgba(68,68,68,0)"},{"offset":0.4375,"color":"rgba(68,68,68,0)"},
{"offset":0.44,"color":"#444"},{"offset":0.4425,"color":"rgba(68,68,68,0)"},{"offset":0.4475,"color":"rgba(68,68,68,0)"},
{"offset":0.45,"color":"#444"},{"offset":0.4525,"color":"rgba(68,68,68,0)"},{"offset":0.4575,"color":"rgba(68,68,68,0)"},
{"offset":0.46,"color":"#444"},{"offset":0.4625,"color":"rgba(68,68,68,0)"},{"offset":0.4675,"color":"rgba(68,68,68,0)"},
{"offset":0.47,"color":"#444"},{"offset":0.4725,"color":"rgba(68,68,68,0)"},{"offset":0.4775,"color":"rgba(68,68,68,0)"},
{"offset":0.48,"color":"#444"},{"offset":0.4825,"color":"rgba(68,68,68,0)"},{"offset":0.4875,"color":"rgba(68,68,68,0)"},
{"offset":0.49,"color":"#444"},{"offset":0.4925,"color":"rgba(68,68,68,0)"}]}},
"encoding":{"y":{"datum":99.5,"type":"quantitative"},"y2":{"datum":0}}},
{"transform":[{"filter":"datum.series==='BA2'"}],
"mark":{"type":"bar","strokeWidth":0,"fill":"#7cc5d2"},
"encoding":{"y":{"datum":99.5,"type":"quantitative"},"y2":{"datum":0}}},
{"mark":{"type":"bar","stroke":"white","strokeWidth":1,"fill":"white"},
"encoding":{"y":{"field":"latency","type":"quantitative"},"y2":{"datum":99.5}}},
{"mark":{"type":"bar","stroke":"#444","strokeWidth":1,"fillOpacity":0},
"encoding":{
"y":{"field":"latency","type":"quantitative"},
"fill":{"field":"series","type":"nominal","sort":["Random","FIFO","PRIME","BA1","BA2"],"scale":{"domain":["Random","FIFO","PRIME","BA1","BA2"],"range":[
{"expr":"{gradient:'linear',x1:0,y1:0,x2:1.479,y2:0.704,stops:[{offset:0,color:'#444'},{offset:0.025,color:'#c8e6d6'},{offset:0.075,color:'#c8e6d6'},{offset:0.1,color:'#444'},{offset:0.125,color:'#c8e6d6'},{offset:0.175,color:'#c8e6d6'},{offset:0.2,color:'#444'},{offset:0.225,color:'#c8e6d6'},{offset:0.275,color:'#c8e6d6'},{offset:0.3,color:'#444'},{offset:0.325,color:'#c8e6d6'},{offset:0.375,color:'#c8e6d6'},{offset:0.4,color:'#444'},{offset:0.425,color:'#c8e6d6'},{offset:0.475,color:'#c8e6d6'},{offset:0.5,color:'#444'},{offset:0.525,color:'#c8e6d6'},{offset:0.575,color:'#c8e6d6'},{offset:0.6,color:'#444'},{offset:0.625,color:'#c8e6d6'},{offset:0.675,color:'#c8e6d6'},{offset:0.7,color:'#444'},{offset:0.725,color:'#c8e6d6'},{offset:0.775,color:'#c8e6d6'},{offset:0.8,color:'#444'},{offset:0.825,color:'#c8e6d6'}]}"},
{"expr":"{gradient:'linear',x1:0,y1:0,x2:2.403,y2:1.144,stops:[{offset:0,color:'#2b3a3c'},{offset:0.025,color:'#3a9aa2'},{offset:0.075,color:'#3a9aa2'},{offset:0.1,color:'#2b3a3c'},{offset:0.125,color:'#3a9aa2'},{offset:0.175,color:'#3a9aa2'},{offset:0.2,color:'#2b3a3c'},{offset:0.225,color:'#3a9aa2'},{offset:0.275,color:'#3a9aa2'},{offset:0.3,color:'#2b3a3c'},{offset:0.325,color:'#3a9aa2'},{offset:0.375,color:'#3a9aa2'},{offset:0.4,color:'#2b3a3c'},{offset:0.425,color:'#3a9aa2'},{offset:0.475,color:'#3a9aa2'},{offset:0.5,color:'#2b3a3c'},{offset:0.525,color:'#3a9aa2'}]}"},
{"expr":"{gradient:'linear',x1:1,y1:0,x2:-1.403,y2:1.144,stops:[{offset:0,color:'#444'},{offset:0.025,color:'#ebd97f'},{offset:0.075,color:'#ebd97f'},{offset:0.1,color:'#444'},{offset:0.125,color:'#ebd97f'},{offset:0.175,color:'#ebd97f'},{offset:0.2,color:'#444'},{offset:0.225,color:'#ebd97f'},{offset:0.275,color:'#ebd97f'},{offset:0.3,color:'#444'},{offset:0.325,color:'#ebd97f'},{offset:0.375,color:'#ebd97f'},{offset:0.4,color:'#444'},{offset:0.425,color:'#ebd97f'},{offset:0.475,color:'#ebd97f'},{offset:0.5,color:'#444'},{offset:0.525,color:'#ebd97f'}]}"},
{"expr":"{gradient:'linear',x1:0,y1:0,x2:1.664,y2:0.792,stops:[{offset:0,color:'#444'},{offset:0.025,color:'#dba262'},{offset:0.075,color:'#dba262'},{offset:0.1,color:'#444'},{offset:0.125,color:'#dba262'},{offset:0.175,color:'#dba262'},{offset:0.2,color:'#444'},{offset:0.225,color:'#dba262'},{offset:0.275,color:'#dba262'},{offset:0.3,color:'#444'},{offset:0.325,color:'#dba262'},{offset:0.375,color:'#dba262'},{offset:0.4,color:'#444'},{offset:0.425,color:'#dba262'},{offset:0.475,color:'#dba262'},{offset:0.5,color:'#444'},{offset:0.525,color:'#dba262'},{offset:0.575,color:'#dba262'},{offset:0.6,color:'#444'},{offset:0.625,color:'#dba262'},{offset:0.675,color:'#dba262'},{offset:0.7,color:'#444'},{offset:0.725,color:'#dba262'}]}"},
"#7cc5d2"]},
"legend":{"orient":"none","legendX":1,"legendY":299,"title":null,"fillColor":"white","strokeColor":"#888","padding":3,"symbolType":"M-1,-1H3.2V1H-1Z","symbolSize":441,"symbolStrokeColor":"#444","symbolStrokeWidth":1,"symbolOpacity":1,"labelFont":"Liberation Mono","labelFontSize":18,"labelColor":"#222","labelOffset":35,"rowPadding":-1.5}}
}}
]
}
